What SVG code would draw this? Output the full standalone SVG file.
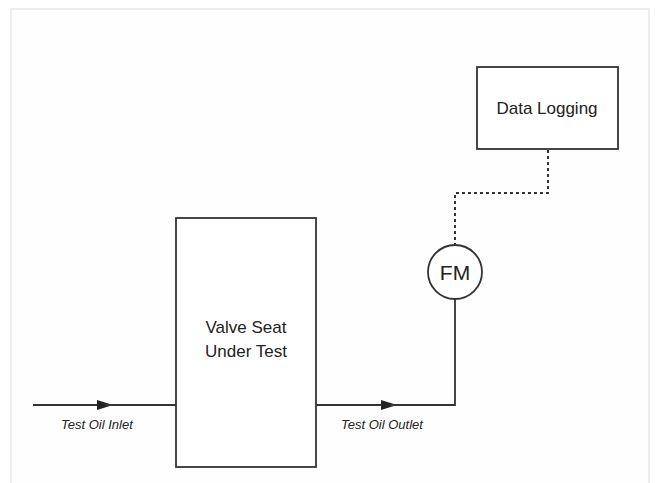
<svg xmlns="http://www.w3.org/2000/svg" width="655" height="483" viewBox="0 0 655 483">
<style>
.box{fill:#fff;stroke:#333;stroke-width:1.8}
.ln{fill:none;stroke:#333;stroke-width:1.8}
.dash{fill:none;stroke:#333;stroke-width:2;stroke-dasharray:3 3}
.t{font-family:"Liberation Sans",Arial,sans-serif;font-size:17px;fill:#222;text-anchor:middle}
.lbl{font-family:"Liberation Sans",Arial,sans-serif;font-size:13px;font-style:italic;fill:#222}
</style>
<defs>
<marker id="arr" markerWidth="16" markerHeight="10" refX="16" refY="5" orient="auto" markerUnits="userSpaceOnUse">
<path d="M0,0 L16,5 L0,10 Z" fill="#222"/>
</marker>
</defs>
<rect x="0" y="0" width="655" height="483" fill="#fff"/>
<rect x="11" y="9" width="638" height="480" fill="#fefefe" stroke="#d3dde6" stroke-width="1"/>
<g id="connectors">
<path class="ln" d="M33,405 H113" marker-end="url(#arr)"/>
<path class="ln" d="M105,405 H176"/>
<path class="ln" d="M316,405 H397" marker-end="url(#arr)"/>
<path class="ln" d="M390,405 H455 V299"/>
<path class="dash" d="M548,150 V193 H455 V245"/>
</g>
<g id="valve">
<rect class="box" x="176" y="218" width="140" height="249"/>
<text class="t" x="246" y="333">Valve Seat</text>
<text class="t" x="246" y="357">Under Test</text>
</g>
<g id="datalogging">
<rect class="box" x="477" y="67" width="141" height="82"/>
<text class="t" x="547" y="114">Data Logging</text>
</g>
<g id="fm">
<circle class="box" cx="455" cy="272" r="27"/>
<text class="t" x="455" y="280" style="font-size:21px">FM</text>
</g>
<text class="lbl" x="61" y="429">Test Oil Inlet</text>
<text class="lbl" x="341" y="429">Test Oil Outlet</text>
</svg>
